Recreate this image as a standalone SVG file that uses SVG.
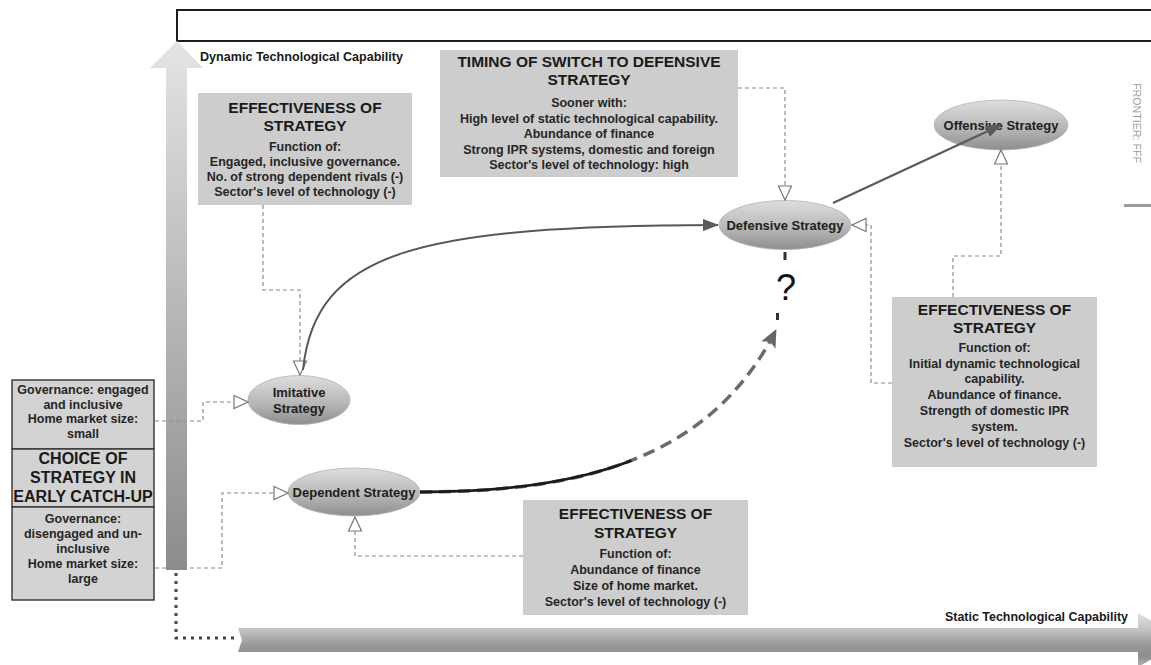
<svg xmlns="http://www.w3.org/2000/svg" width="1151" height="665" viewBox="0 0 1151 665">
<defs>
<style>
.t{font-family:"Liberation Sans",Arial,sans-serif;font-weight:bold;fill:#1a1a1a;text-anchor:middle}
.h{font-size:15.5px}
.b{font-size:12.5px;fill:#262626}
.n{font-size:13px;fill:#202020}
.box{fill:#cdcdcd}
.lbox{fill:#d3d3d3;stroke:#333;stroke-width:1.4}
.node{fill:url(#eg);stroke:#b4b4b4;stroke-width:0.8}
.dash{fill:none;stroke:#8a8a8a;stroke-width:1.2;stroke-dasharray:4 3;marker-end:url(#open)}
</style>
<linearGradient id="eg" x1="0" y1="0" x2="0" y2="1">
<stop offset="0" stop-color="#dedede"/>
<stop offset="0.55" stop-color="#b8b8b8"/>
<stop offset="1" stop-color="#8e8e8e"/>
</linearGradient>
<linearGradient id="vg" gradientUnits="userSpaceOnUse" x1="0" y1="41" x2="0" y2="570">
<stop offset="0" stop-color="#e4e4e4"/>
<stop offset="1" stop-color="#8c8c8c"/>
</linearGradient>
<linearGradient id="hg" gradientUnits="userSpaceOnUse" x1="0" y1="613" x2="0" y2="667">
<stop offset="0" stop-color="#e0e0e0"/>
<stop offset="0.3" stop-color="#c4c4c4"/>
<stop offset="0.6" stop-color="#989898"/>
<stop offset="0.8" stop-color="#8e8e8e"/>
<stop offset="1" stop-color="#b4b4b4"/>
</linearGradient>
<marker id="fill" viewBox="0 0 16 12" refX="15" refY="6" markerWidth="16" markerHeight="12" markerUnits="userSpaceOnUse" orient="auto">
<path d="M0,0 L16,6 L0,12 Z" fill="#5a5a5a"/>
</marker>
<marker id="fillg" viewBox="0 0 18 16" refX="17" refY="8" markerWidth="18" markerHeight="16" markerUnits="userSpaceOnUse" orient="auto">
<path d="M0,0 L18,8 L0,16 L4,8 Z" fill="#666"/>
</marker>
<marker id="open" viewBox="0 0 16 16" refX="15" refY="8" markerWidth="16" markerHeight="16" markerUnits="userSpaceOnUse" orient="auto">
<path d="M1,1.5 L15,8 L1,14.5 Z" fill="#fff" stroke="#777" stroke-width="1.2"/>
</marker>
</defs>
<rect width="1151" height="665" fill="#fff"/>

<g id="frontier-box">
<rect x="177" y="10" width="990" height="31" fill="#fff" stroke="#1e1e1e" stroke-width="2"/>
</g>

<g id="axes">
<polygon points="177,41 203,68 187,68 187,570 166,570 166,68 150,68" fill="url(#vg)"/>
<polygon points="238,628 1138,628 1138,613 1185,640 1138,667 1138,652 238,652 242,640" fill="url(#hg)"/>
<text class="t" x="200" y="61" style="font-size:12px;text-anchor:start" textLength="203" lengthAdjust="spacingAndGlyphs">Dynamic Technological Capability</text>
<text class="t" x="945" y="621" style="font-size:12px;text-anchor:start" textLength="183" lengthAdjust="spacingAndGlyphs">Static Technological Capability</text>
<text x="1133" y="83" transform="rotate(90 1133 83)" style="font-family:'Liberation Sans',Arial,sans-serif;font-size:11px;fill:#9a9a9a" textLength="80" lengthAdjust="spacingAndGlyphs">FRONTIER: FFF</text>
<rect x="1124" y="204" width="27" height="3" fill="#9a9a9a"/>
</g>

<g id="choice-box">
<rect class="lbox" x="12" y="380" width="142" height="69"/>
<rect class="lbox" x="12" y="449" width="142" height="58"/>
<rect class="lbox" x="12" y="507" width="142" height="93"/>
<text class="t b" x="83" y="394">Governance: engaged</text>
<text class="t b" x="83" y="408.5">and inclusive</text>
<text class="t b" x="83" y="423">Home market size:</text>
<text class="t b" x="83" y="438">small</text>
<text class="t" style="font-size:16px" x="83" y="464">CHOICE OF</text>
<text class="t" style="font-size:16px" x="83" y="483">STRATEGY IN</text>
<text class="t" style="font-size:16px" x="83" y="502">EARLY CATCH-UP</text>
<text class="t b" x="83" y="523">Governance:</text>
<text class="t b" x="83" y="538">disengaged and un-</text>
<text class="t b" x="83" y="553">inclusive</text>
<text class="t b" x="83" y="568">Home market size:</text>
<text class="t b" x="83" y="583">large</text>
</g>

<g id="imitative-effectiveness">
<rect class="box" x="198" y="93" width="214" height="112"/>
<text class="t h" x="305" y="113">EFFECTIVENESS OF</text>
<text class="t h" x="305" y="131">STRATEGY</text>
<text class="t b" x="305" y="151">Function of:</text>
<text class="t b" x="305" y="166">Engaged, inclusive governance.</text>
<text class="t b" x="305" y="181">No. of strong dependent rivals (-)</text>
<text class="t b" x="305" y="196">Sector's level of technology (-)</text>
</g>

<g id="timing-switch">
<rect class="box" x="440" y="50" width="298" height="127"/>
<text class="t h" x="589" y="67">TIMING OF SWITCH TO DEFENSIVE</text>
<text class="t h" x="589" y="85">STRATEGY</text>
<text class="t b" x="589" y="107">Sooner with:</text>
<text class="t b" x="589" y="122.5">High level of static technological capability.</text>
<text class="t b" x="589" y="138">Abundance of finance</text>
<text class="t b" x="589" y="153.5">Strong IPR systems, domestic and foreign</text>
<text class="t b" x="589" y="169">Sector's level of technology: high</text>
</g>

<g id="defensive-effectiveness">
<rect class="box" x="892" y="297" width="205" height="170"/>
<text class="t h" x="994.5" y="315">EFFECTIVENESS OF</text>
<text class="t h" x="994.5" y="333">STRATEGY</text>
<text class="t b" x="994.5" y="352">Function of:</text>
<text class="t b" x="994.5" y="367.5">Initial dynamic technological</text>
<text class="t b" x="994.5" y="383">capability.</text>
<text class="t b" x="994.5" y="399">Abundance of finance.</text>
<text class="t b" x="994.5" y="415">Strength of domestic IPR</text>
<text class="t b" x="994.5" y="431">system.</text>
<text class="t b" x="994.5" y="447">Sector's level of technology (-)</text>
</g>

<g id="dependent-effectiveness">
<rect class="box" x="523" y="500" width="225" height="115"/>
<text class="t h" x="635.5" y="519">EFFECTIVENESS OF</text>
<text class="t h" x="635.5" y="538">STRATEGY</text>
<text class="t b" x="635.5" y="558">Function of:</text>
<text class="t b" x="635.5" y="574">Abundance of finance</text>
<text class="t b" x="635.5" y="590">Size of home market.</text>
<text class="t b" x="635.5" y="605.5">Sector's level of technology (-)</text>
</g>

<g id="imitative-strategy">
<ellipse class="node" cx="299" cy="400" rx="51" ry="24.5"/>
<text class="t n" x="299" y="397">Imitative</text>
<text class="t n" x="299" y="413">Strategy</text>
</g>

<g id="dependent-strategy">
<ellipse class="node" cx="354" cy="492" rx="66" ry="24"/>
<text class="t n" x="354" y="497">Dependent Strategy</text>
</g>

<g id="defensive-strategy">
<ellipse class="node" cx="785" cy="225" rx="66" ry="24.5"/>
<text class="t n" x="785" y="229.5">Defensive Strategy</text>
</g>

<g id="offensive-strategy">
<ellipse class="node" cx="1001" cy="125" rx="67" ry="25"/>
<text class="t n" x="1001" y="129.5">Offensive Strategy</text>
</g>

<g id="connectors">
<path class="dash" d="M263 205 V290 H300 V375"/>
<path class="dash" d="M155 421 H203 V402 H248"/>
<path class="dash" d="M155 568 H222 V493 H288"/>
<path class="dash" d="M523 556 H355 V517"/>
<path class="dash" d="M738 88 H785 V200"/>
<path class="dash" d="M892 383 H871 V225 H852"/>
<path class="dash" d="M953 297 V256 H1001 V150"/>
<path d="M176 573 V638 H237" fill="none" stroke="#444" stroke-width="3" stroke-dasharray="3 5"/>
<path d="M303 370 C315 250, 420 226, 718 225" fill="none" stroke="#585858" stroke-width="2" marker-end="url(#fill)"/>
<path d="M833 203 L1001 125" fill="none" stroke="#5a5a5a" stroke-width="2.2" marker-end="url(#fill)"/>
<path d="M420 492 C580 492, 710 460, 776 330" fill="none" stroke="#6a6a6a" stroke-width="3.5" stroke-dasharray="12 7" marker-end="url(#fillg)"/>
<path d="M420 492 C580 492, 710 460, 776 330" fill="none" stroke="#1a1a1a" stroke-width="2.8" stroke-dasharray="215 2000"/>
<path d="M785 252 V260 M777.5 313 V320" fill="none" stroke="#333" stroke-width="3"/>
<text x="786" y="300" style="font-family:'Liberation Sans',Arial,sans-serif;font-size:36px;fill:#111;text-anchor:middle">?</text>
</g>
</svg>
